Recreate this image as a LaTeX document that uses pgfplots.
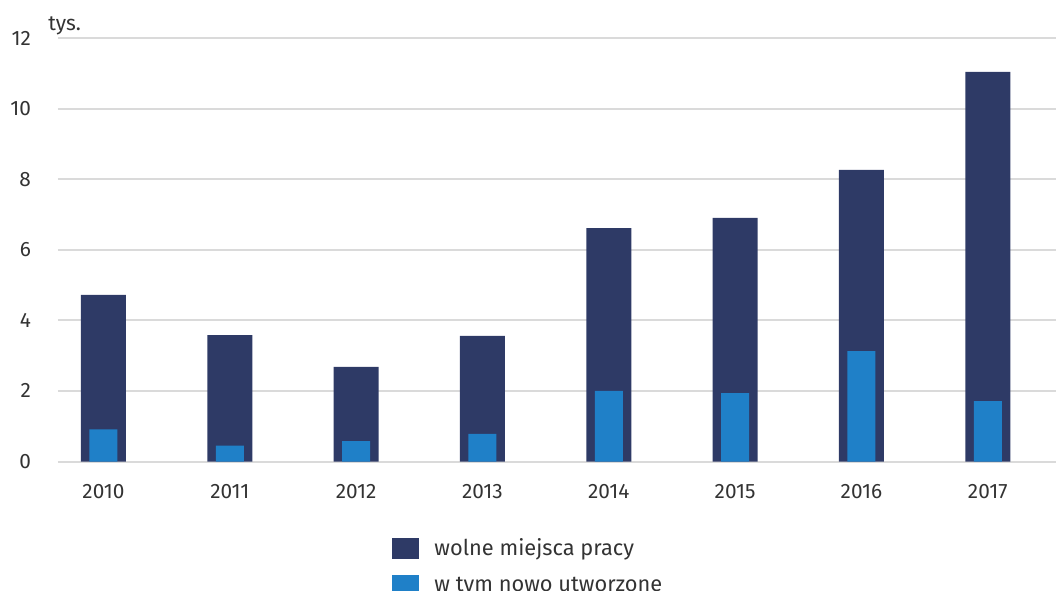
\documentclass[border=0pt]{standalone}
\usepackage{fontspec}
\setmainfont{Fira Sans}
\usepackage{pgfplots}
\pgfplotsset{compat=1.18}
\definecolor{darkbar}{HTML}{2E3A66}
\definecolor{lightbar}{HTML}{1F80C8}
\definecolor{gridc}{HTML}{DADADA}
\definecolor{txt}{HTML}{333333}
\pgfplotsset{mylegend/.style={legend image code/.code={\fill[##1] (0pt,-5.25pt) rectangle (13.5pt,5.25pt); \path (19pt,0pt);}}}
\begin{document}
\begin{tikzpicture}
\path[use as bounding box] (-29pt,-64.25pt) rectangle (499pt,230.75pt);
\begin{axis}[
  at={(0pt,0pt)}, anchor=south west,
  scale only axis, width=499pt, height=211.75pt,
  xmin=-0.36, xmax=7.54, ymin=0, ymax=12,
  ytick={0,2,4,6,8,10,12},
  xtick={0,1,2,3,4,5,6,7},
  xticklabels={2010,2011,2012,2013,2014,2015,2016,2017},
  ymajorgrids, grid style={gridc, line width=1pt},
  axis line style={draw=none}, major tick length=0pt,
  tick label style={font=\fontsize{10.4}{12}\selectfont, text=txt},
  /pgf/number format/assume math mode=true,
  yticklabel style={xshift=-10pt},
  xticklabel style={yshift=-8pt},
  clip=false,
  legend cell align=left,
  legend style={at={(0.3347,-0.172)}, anchor=north west, draw=none, fill=none,
    inner sep=0pt, row sep=5pt, font=\fontsize{10.9}{12}\selectfont, text=txt},
]
\addplot[ybar, bar width=22.5pt, bar shift=0pt, fill=darkbar, draw=none, mylegend]
  coordinates {(0,4.72)(1,3.58)(2,2.68)(3,3.56)(4,6.61)(5,6.90)(6,8.26)(7,11.04)};
\addlegendentry{wolne miejsca pracy}
\addplot[ybar, bar width=14pt, bar shift=0pt, fill=lightbar, draw=none, mylegend]
  coordinates {(0,0.91)(1,0.45)(2,0.58)(3,0.78)(4,2.00)(5,1.94)(6,3.13)(7,1.71)};
\addlegendentry{w tym nowo utworzone}
\node[anchor=base west, font=\fontsize{10.5}{12}\selectfont, text=txt, inner sep=0pt]
  at (rel axis cs:0,1) [xshift=-5pt, yshift=4pt] {tys.};
\end{axis}
\end{tikzpicture}
\end{document}
